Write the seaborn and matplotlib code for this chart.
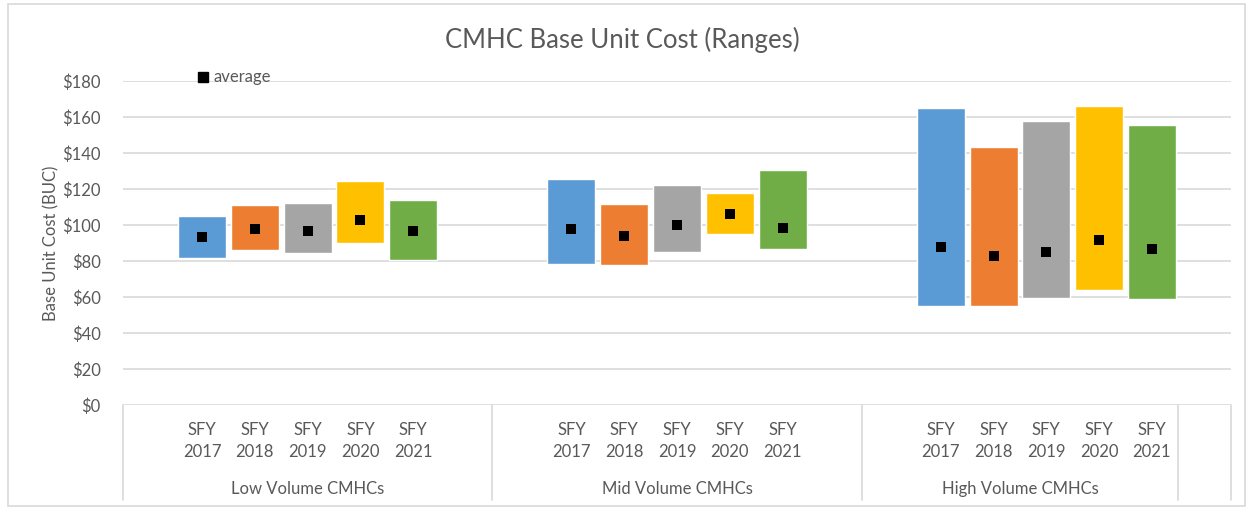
import matplotlib
matplotlib.use("Agg")
import matplotlib.pyplot as plt
import matplotlib.patches as mpatches
from matplotlib.lines import Line2D
import numpy as np
import pandas as pd
import seaborn as sns

# ── Data ────────────────────────────────────
years = ["SFY\n2017", "SFY\n2018", "SFY\n2019", "SFY\n2020", "SFY\n2021"]
groups = ["Low Volume CMHCs", "Mid Volume CMHCs", "High Volume CMHCs"]

low_min = [81.7, 86.3, 84.6, 89.8, 80.7]
low_max = [105.2, 111.3, 112.4, 124.8, 114.0]
low_avg = [93.3, 98.0, 96.8, 103.0, 96.8]

mid_min = [78.5, 78.0, 84.8, 94.8, 86.8]
mid_max = [125.9, 112.0, 122.6, 117.6, 130.9]
mid_avg = [98.0, 93.9, 100.2, 106.3, 98.5]

high_min = [55.3, 55.0, 59.6, 64.0, 59.0]
high_max = [165.0, 143.7, 157.8, 166.1, 155.5]
high_avg = [87.8, 82.8, 85.0, 91.8, 86.8]

PALETTE = ["#5B9BD5", "#ED7D31", "#A5A5A5", "#FFC000", "#70AD47"]
TEXT = "#595959"
GRID = "#D9D9D9"

# ── Styling ─────────────────────────────────
sns.set_theme(style="white")
plt.rcParams["font.family"] = ["Lato", "DejaVu Sans"]

# slots: each group has 7 category slots (blank, 5 years, blank); last group 6 + 1 trailing blank
group_start = [0, 7, 14]
group_edges = [-0.5, 6.5, 13.5, 19.5, 20.5]

rows = []
for g, start, mins, maxs, avgs in zip(groups, group_start,
                                      [low_min, mid_min, high_min],
                                      [low_max, mid_max, high_max],
                                      [low_avg, mid_avg, high_avg]):
    for i, yr in enumerate(years):
        rows.append({"group": g, "year": yr, "x": start + 1 + i,
                     "low": mins[i], "high": maxs[i], "avg": avgs[i],
                     "color": PALETTE[i]})
df = pd.DataFrame(rows)

fig = plt.figure(figsize=(12.5, 5.08), dpi=100)
ax = fig.add_axes([0.0984, 0.2028, 0.8864, 0.6372])

# gridlines
for yv in range(20, 181, 20):
    ax.axhline(yv, color=GRID, lw=1.2, zorder=0)

# floating range bars
ax.bar(df["x"], df["high"] - df["low"], bottom=df["low"], width=0.91,
       color=df["color"], zorder=2)

# averages
sns.scatterplot(data=df, x="x", y="avg", marker="s", s=50, color="black",
                edgecolor="black", linewidth=0, ax=ax, zorder=3, legend=False)

ax.set_xlim(-0.5, 20.5)
ax.set_ylim(0, 180)
ax.set_yticks(range(0, 181, 20))
ax.set_yticklabels([f"${v}" for v in range(0, 181, 20)], color=TEXT, fontsize=12)
ax.tick_params(axis="y", length=0, pad=16)
ax.set_xticks(df["x"])
ax.set_xticklabels(df["year"], color=TEXT, fontsize=12, linespacing=1.5)
ax.tick_params(axis="x", length=0, pad=12)
ax.set_xlabel("")
ax.set_ylabel("Base Unit Cost (BUC)", color=TEXT, fontsize=12, labelpad=2)
for s in ax.spines.values():
    s.set_visible(False)

# category box below the axis
ax.axhline(0, color=GRID, lw=1.2, zorder=1)
for xe in group_edges:
    ax.plot([xe, xe], [0, -0.293], color=GRID, lw=1.2,
            transform=ax.get_xaxis_transform(), clip_on=False)
for g, lo, hi in zip(groups, group_edges[:-2], group_edges[1:-1]):
    ax.text((lo + hi) / 2, -0.26, g, ha="center", va="center", color=TEXT,
            fontsize=12, transform=ax.get_xaxis_transform())

# legend
handle = Line2D([], [], marker="s", color="black", linestyle="none", markersize=7)
ax.legend([handle], ["average"], loc="center left", bbox_to_anchor=(0.062, 1.012),
          frameon=False, handlelength=0.6, handletextpad=0.3, fontsize=12,
          labelcolor=TEXT, borderaxespad=0)

fig.suptitle("CMHC Base Unit Cost (Ranges)", x=0.498, y=0.921, va="center",
             fontsize=18.5, color=TEXT)

# outer chart border
fig.patches.append(mpatches.Rectangle((0.006, 0.004), 0.99, 0.988, transform=fig.transFigure,
                                      fill=False, edgecolor=GRID, lw=1.2))

fig.savefig("out.png", dpi=100)
